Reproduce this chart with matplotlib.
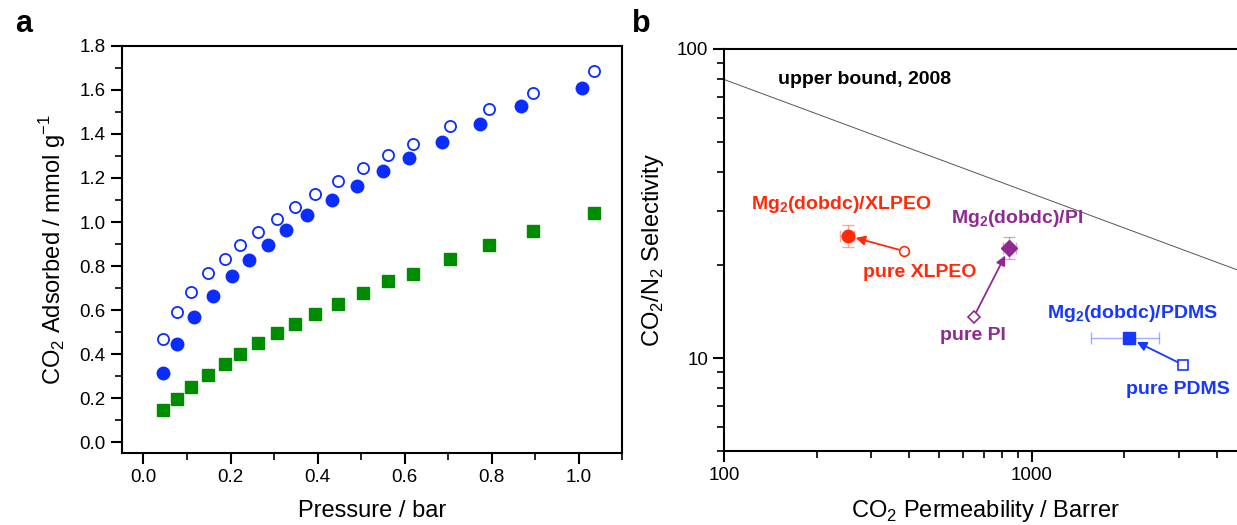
import matplotlib
matplotlib.use("Agg")
import matplotlib.pyplot as plt
from matplotlib.ticker import MultipleLocator, LogLocator, NullFormatter, FixedLocator, FixedFormatter

plt.rcParams['font.family'] = ['Liberation Sans', 'DejaVu Sans']
plt.rcParams['mathtext.fontset'] = 'custom'
plt.rcParams['mathtext.rm'] = 'Liberation Sans'
plt.rcParams['mathtext.bf'] = 'Liberation Sans:bold'

# panel a : CO2 isotherms
p_open = [0.044, 0.076, 0.110, 0.149, 0.187, 0.222, 0.263, 0.306, 0.347, 0.393,
          0.447, 0.504, 0.562, 0.620, 0.703, 0.793, 0.895, 1.034]
q_open = [0.470, 0.592, 0.682, 0.767, 0.834, 0.896, 0.955, 1.015, 1.070, 1.128,
          1.184, 1.243, 1.306, 1.354, 1.435, 1.511, 1.587, 1.686]
p_fill = [0.045, 0.077, 0.115, 0.159, 0.203, 0.242, 0.286, 0.328, 0.376, 0.433,
          0.490, 0.550, 0.610, 0.685, 0.772, 0.867, 1.008]
q_fill = [0.315, 0.447, 0.568, 0.666, 0.755, 0.828, 0.896, 0.963, 1.030, 1.102,
          1.163, 1.232, 1.289, 1.362, 1.444, 1.525, 1.610]
p_sq = p_open
q_sq = [0.145, 0.199, 0.250, 0.306, 0.355, 0.403, 0.450, 0.495, 0.536, 0.581,
        0.630, 0.679, 0.730, 0.765, 0.832, 0.896, 0.959, 1.039]

# panel b : permeability / selectivity
bound_perm = [100, 5000]
bound_sel = [79.7, 18.8]

names = ['XLPEO', 'PI', 'PDMS']
colors = ['#ff2a0a', '#8e2a92', '#1638ff']
pure_perm = [385, 648, 3096]
pure_sel = [22.2, 13.6, 9.53]
mof_perm = [252, 844, 2076]
mof_sel = [24.9, 22.7, 11.6]
mof_perm_lo = [238, 807, 1555]
mof_perm_hi = [265, 889, 2600]
mof_sel_lo = [22.9, 21.0, 11.3]
mof_sel_hi = [27.0, 24.6, 11.9]
mof_markers = ['o', 'D', 's']
pure_markers = ['o', 'D', 's']
mof_label_pos = [(122, 31.5), (546, 28.2), (1125, 13.9)]
pure_label_pos = [(283, 19.0), (504, 11.85), (2024, 7.91)]

fig = plt.figure(figsize=(12.37, 5.25), dpi=100)
ax1 = fig.add_axes([0.0984, 0.1377, 0.4047, 0.7752])
ax2 = fig.add_axes([0.5853, 0.1404, 0.4226, 0.7663])

blue = '#0a2cff'
green = '#008c00'
ax1.plot(p_open, q_open, 'o', ms=8, mfc='none', mec=blue, mew=1.3)
ax1.plot(p_fill, q_fill, 'o', ms=9, color=blue, mec=blue)
ax1.plot(p_sq, q_sq, 's', ms=8, color=green)
ax1.set_xlim(-0.05, 1.1)
ax1.set_ylim(-0.047, 1.8)
ax1.xaxis.set_major_locator(MultipleLocator(0.2))
ax1.xaxis.set_minor_locator(MultipleLocator(0.1))
ax1.yaxis.set_major_locator(MultipleLocator(0.2))
ax1.yaxis.set_minor_locator(MultipleLocator(0.1))
ax1.xaxis.set_major_formatter(plt.FuncFormatter(lambda v, p: f"{v:.1f}"))
ax1.yaxis.set_major_formatter(plt.FuncFormatter(lambda v, p: f"{v:.1f}"))
ax1.tick_params(top=False, right=False, labelsize=13.5, width=1.5, length=8, direction='out')
ax1.tick_params(which='minor', width=1.2, length=5)
ax1.set_xlabel('Pressure / bar', fontsize=17, labelpad=10)
ax1.set_ylabel('CO$_2$ Adsorbed / mmol g$^{-1}$', fontsize=17, labelpad=8)
for s in ax1.spines.values():
    s.set_linewidth(1.5)

ax2.set_xscale('log')
ax2.set_yscale('log')
ax2.plot(bound_perm, bound_sel, '-', color='#555555', lw=0.7)
ax2.text(150, 79.5, 'upper bound, 2008', fontsize=14, fontweight='bold',
         va='center', ha='left')

for i in range(3):
    c = colors[i]
    ax2.errorbar([mof_perm[i]], [mof_sel[i]],
                 xerr=[[mof_perm[i] - mof_perm_lo[i]], [mof_perm_hi[i] - mof_perm[i]]],
                 yerr=[[mof_sel[i] - mof_sel_lo[i]], [mof_sel_hi[i] - mof_sel[i]]],
                 fmt='none', ecolor=c, alpha=0.4, elinewidth=1, capsize=4)
    ax2.plot(mof_perm[i], mof_sel[i], mof_markers[i], ms=9 if i != 1 else 8, color=c, zorder=4)
    ax2.plot(pure_perm[i], pure_sel[i], pure_markers[i], ms=7 if i != 1 else 6,
             mfc='white', mec=c, mew=1.2, zorder=4)
    ax2.annotate('', xy=(mof_perm[i], mof_sel[i]), xytext=(pure_perm[i], pure_sel[i]),
                 arrowprops=dict(arrowstyle='-|>', color=c, lw=1.3, mutation_scale=14,
                                 shrinkA=4, shrinkB=6), zorder=3)
    ax2.text(mof_label_pos[i][0], mof_label_pos[i][1], 'Mg$_\\mathbf{2}$(dobdc)/' + names[i],
             color=c, fontsize=14, fontweight='bold', va='center', ha='left')
    ax2.text(pure_label_pos[i][0], pure_label_pos[i][1], 'pure ' + names[i],
             color=c, fontsize=14, fontweight='bold', va='center', ha='left')

ax2.set_xlim(100, 5000)
ax2.set_ylim(5, 100)
ax2.xaxis.set_major_locator(FixedLocator([100, 1000]))
ax2.xaxis.set_major_formatter(FixedFormatter(['100', '1000']))
ax2.xaxis.set_minor_locator(LogLocator(base=10, subs=range(2, 10)))
ax2.xaxis.set_minor_formatter(NullFormatter())
ax2.yaxis.set_major_locator(FixedLocator([10, 100]))
ax2.yaxis.set_major_formatter(FixedFormatter(['10', '100']))
ax2.yaxis.set_minor_locator(LogLocator(base=10, subs=range(2, 10)))
ax2.yaxis.set_minor_formatter(NullFormatter())
ax2.tick_params(top=False, right=False, labelsize=13.5, width=1.5, length=8, direction='out')
ax2.tick_params(which='minor', width=1.2, length=5)
ax2.set_xlabel('CO$_2$ Permeability / Barrer', fontsize=17, labelpad=10)
ax2.set_ylabel('CO$_2$/N$_2$ Selectivity', fontsize=17, labelpad=8)
for s in ax2.spines.values():
    s.set_linewidth(1.5)

fig.text(0.012, 0.955, 'a', fontsize=22, fontweight='bold', va='center')
fig.text(0.511, 0.955, 'b', fontsize=22, fontweight='bold', va='center')

fig.savefig('out.png', dpi=100)
